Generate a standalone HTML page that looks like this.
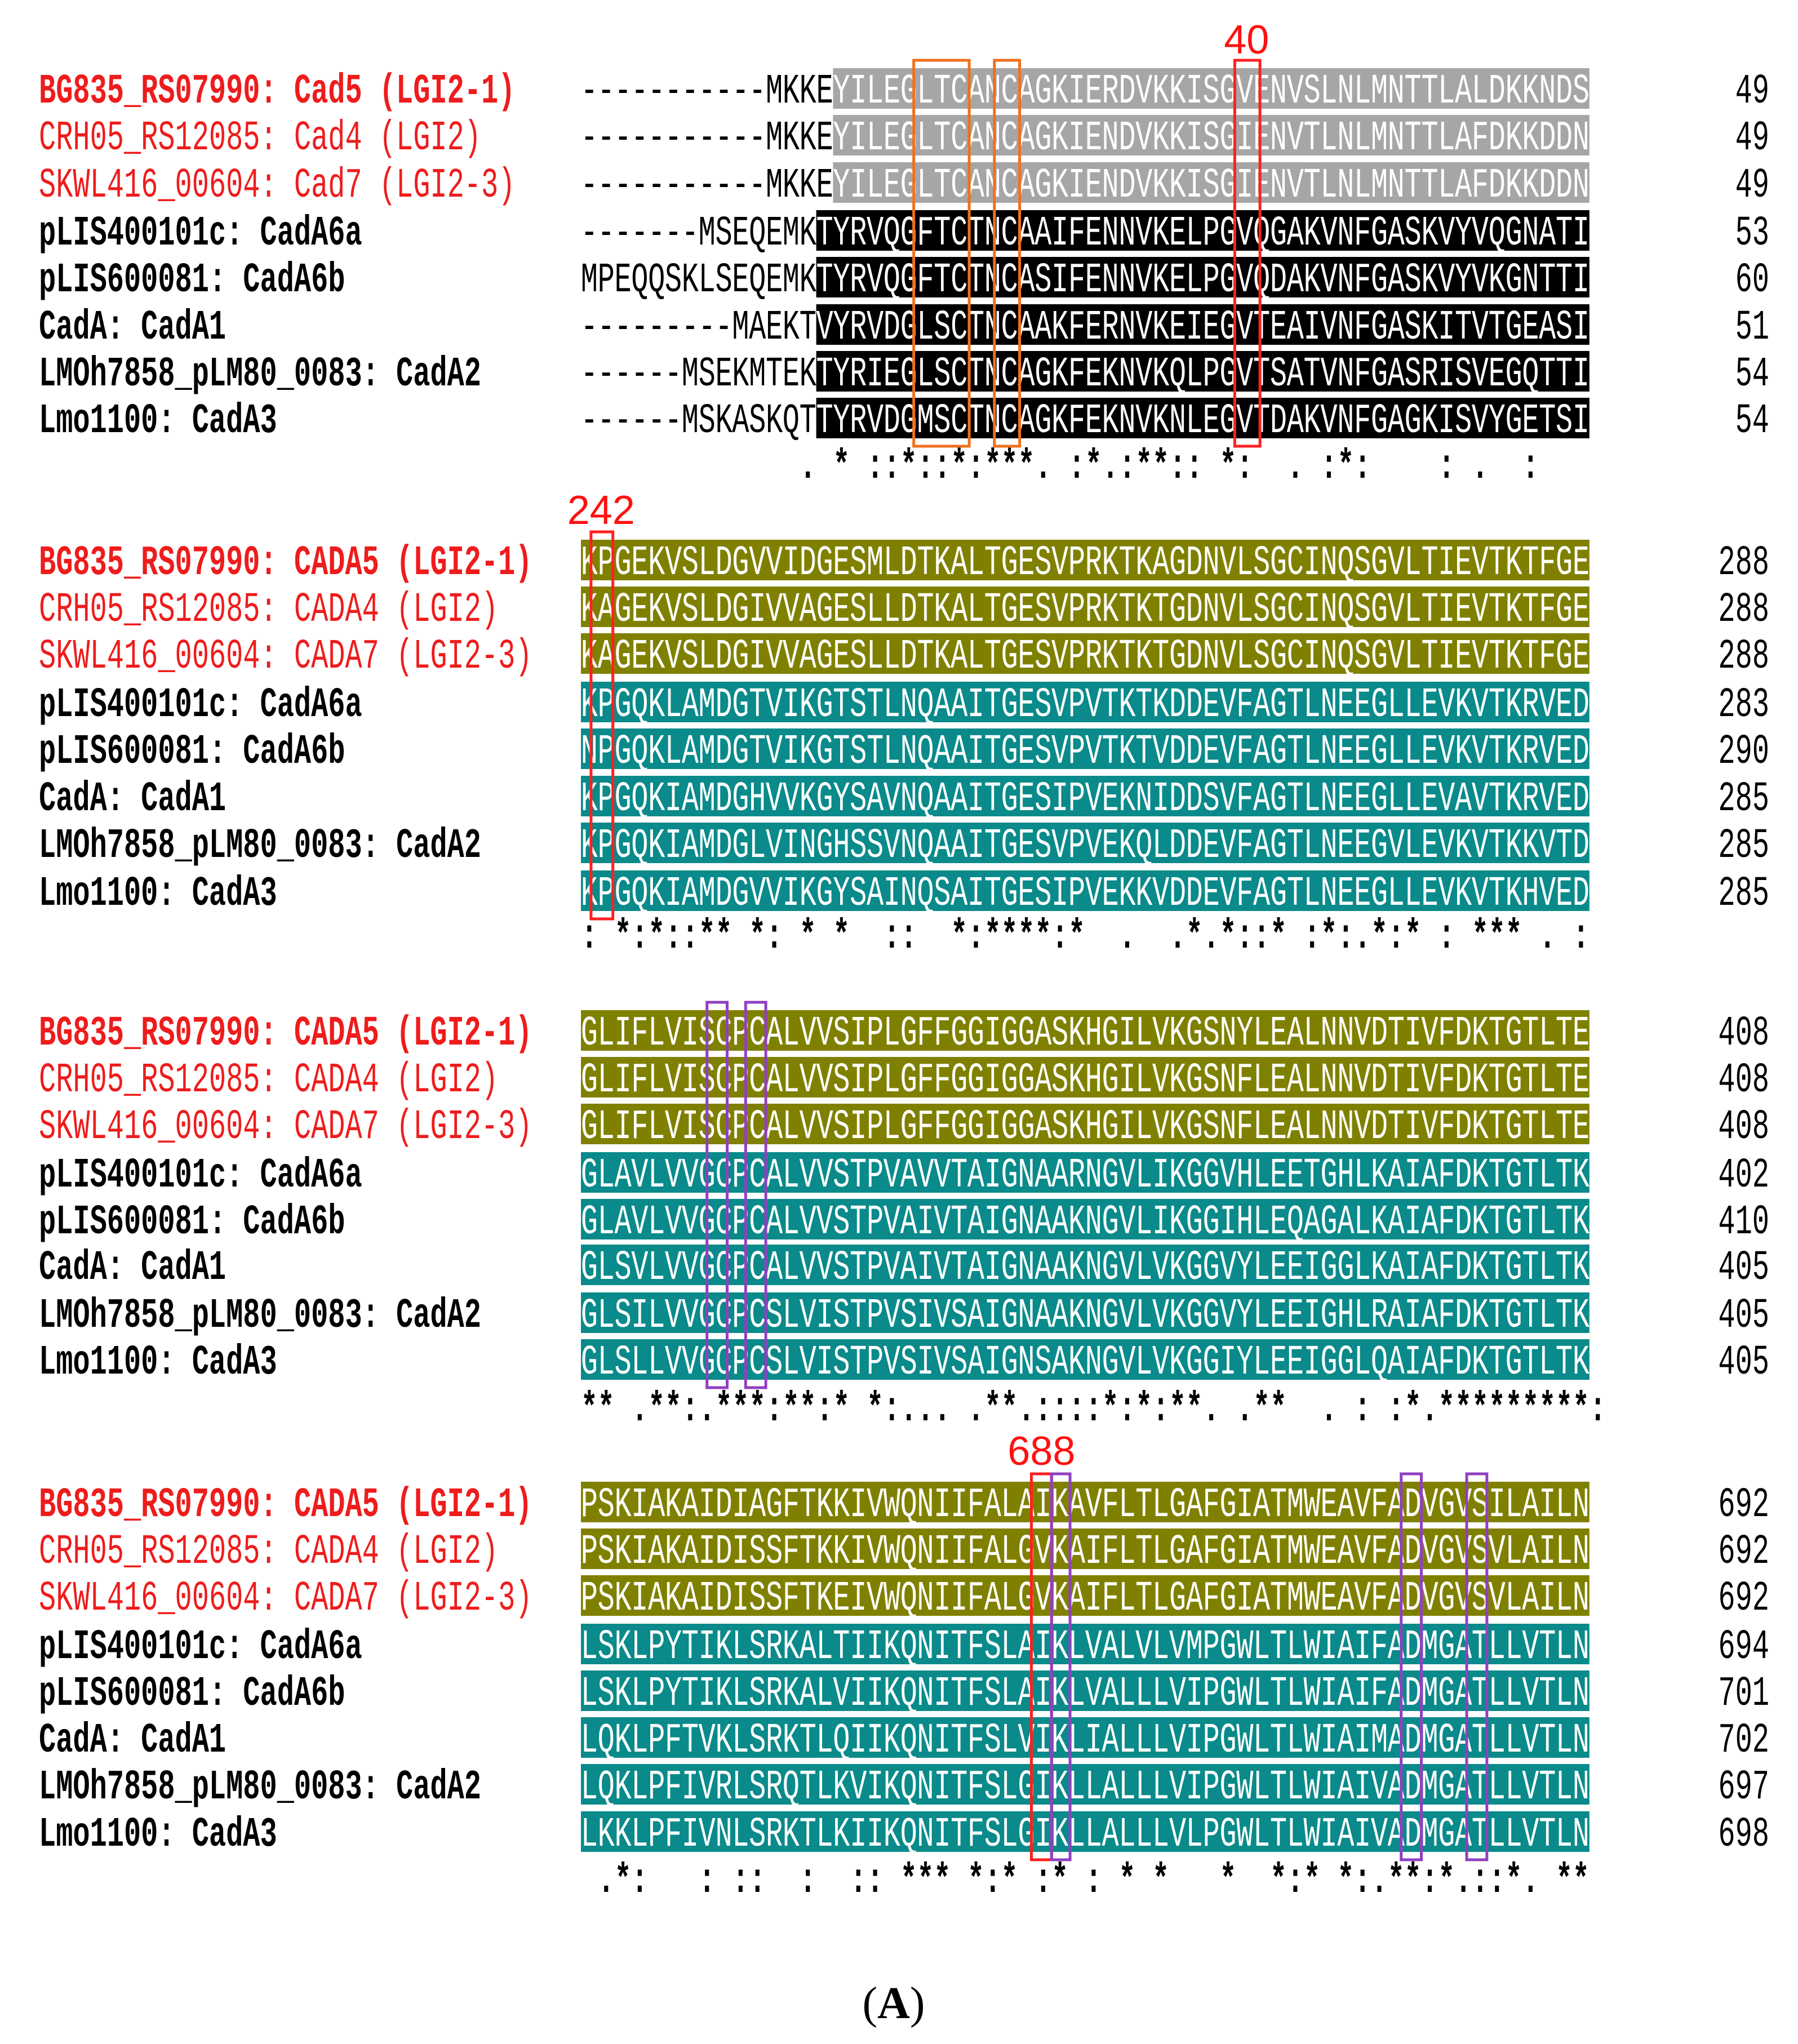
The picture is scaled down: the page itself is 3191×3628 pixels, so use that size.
<!DOCTYPE html>
<html><head><meta charset="utf-8"><style>
html,body{margin:0;padding:0;background:#fff;}
svg{display:block;}
</style></head><body>
<svg id="fig" width="3191" height="3628" viewBox="0 0 3191 3628" xmlns="http://www.w3.org/2000/svg"></svg>
<script>
const blockRowY = [[157,240,324,409,492,576,659,742],[994,1077,1160,1246,1329,1413,1496,1581],[1829,1912,1995,2081,2164,2245,2330,2413],[2666,2749,2832,2918,3001,3084,3167,3251]];
const consY = [826,1660,2499,3336];
const labels1 = ["BG835_RS07990: Cad5 (LGI2-1)","CRH05_RS12085: Cad4 (LGI2)","SKWL416_00604: Cad7 (LGI2-3)","pLIS400101c: CadA6a","pLIS600081: CadA6b","CadA: CadA1","LMOh7858_pLM80_0083: CadA2","Lmo1100: CadA3"];
const labels2 = ["BG835_RS07990: CADA5 (LGI2-1)","CRH05_RS12085: CADA4 (LGI2)","SKWL416_00604: CADA7 (LGI2-3)","pLIS400101c: CadA6a","pLIS600081: CadA6b","CadA: CadA1","LMOh7858_pLM80_0083: CadA2","Lmo1100: CadA3"];
const seqs = [
["-----------MKKEYILEGLTCANCAGKIERDVKKISGVENVSLNLMNTTLALDKKNDS","-----------MKKEYILEGLTCANCAGKIENDVKKISGIENVTLNLMNTTLAFDKKDDN","-----------MKKEYILEGLTCANCAGKIENDVKKISGIENVTLNLMNTTLAFDKKDDN","-------MSEQEMKTYRVQGFTCTNCAAIFENNVKELPGVQGAKVNFGASKVYVQGNATI","MPEQQSKLSEQEMKTYRVQGFTCTNCASIFENNVKELPGVQDAKVNFGASKVYVKGNTTI","---------MAEKTVYRVDGLSCTNCAAKFERNVKEIEGVTEAIVNFGASKITVTGEASI","------MSEKMTEKTYRIEGLSCTNCAGKFEKNVKQLPGVTSATVNFGASRISVEGQTTI","------MSKASKQTTYRVDGMSCTNCAGKFEKNVKNLEGVTDAKVNFGAGKISVYGETSI"],
["KPGEKVSLDGVVIDGESMLDTKALTGESVPRKTKAGDNVLSGCINQSGVLTIEVTKTFGE","KAGEKVSLDGIVVAGESLLDTKALTGESVPRKTKTGDNVLSGCINQSGVLTIEVTKTFGE","KAGEKVSLDGIVVAGESLLDTKALTGESVPRKTKTGDNVLSGCINQSGVLTIEVTKTFGE","KPGQKLAMDGTVIKGTSTLNQAAITGESVPVTKTKDDEVFAGTLNEEGLLEVKVTKRVED","NPGQKLAMDGTVIKGTSTLNQAAITGESVPVTKTVDDEVFAGTLNEEGLLEVKVTKRVED","KPGQKIAMDGHVVKGYSAVNQAAITGESIPVEKNIDDSVFAGTLNEEGLLEVAVTKRVED","KPGQKIAMDGLVINGHSSVNQAAITGESVPVEKQLDDEVFAGTLNEEGVLEVKVTKKVTD","KPGQKIAMDGVVIKGYSAINQSAITGESIPVEKKVDDEVFAGTLNEEGLLEVKVTKHVED"],
["GLIFLVISCPCALVVSIPLGFFGGIGGASKHGILVKGSNYLEALNNVDTIVFDKTGTLTE","GLIFLVISCPCALVVSIPLGFFGGIGGASKHGILVKGSNFLEALNNVDTIVFDKTGTLTE","GLIFLVISCPCALVVSIPLGFFGGIGGASKHGILVKGSNFLEALNNVDTIVFDKTGTLTE","GLAVLVVGCPCALVVSTPVAVVTAIGNAARNGVLIKGGVHLEETGHLKAIAFDKTGTLTK","GLAVLVVGCPCALVVSTPVAIVTAIGNAAKNGVLIKGGIHLEQAGALKAIAFDKTGTLTK","GLSVLVVGCPCALVVSTPVAIVTAIGNAAKNGVLVKGGVYLEEIGGLKAIAFDKTGTLTK","GLSILVVGCPCSLVISTPVSIVSAIGNAAKNGVLVKGGVYLEEIGHLRAIAFDKTGTLTK","GLSLLVVGCPCSLVISTPVSIVSAIGNSAKNGVLVKGGIYLEEIGGLQAIAFDKTGTLTK"],
["PSKIAKAIDIAGFTKKIVWQNIIFALAIKAVFLTLGAFGIATMWEAVFADVGVSILAILN","PSKIAKAIDISSFTKKIVWQNIIFALGVKAIFLTLGAFGIATMWEAVFADVGVSVLAILN","PSKIAKAIDISSFTKEIVWQNIIFALGVKAIFLTLGAFGIATMWEAVFADVGVSVLAILN","LSKLPYTIKLSRKALTIIKQNITFSLAIKLVALVLVMPGWLTLWIAIFADMGATLLVTLN","LSKLPYTIKLSRKALVIIKQNITFSLAIKLVALLLVIPGWLTLWIAIFADMGATLLVTLN","LQKLPFTVKLSRKTLQIIKQNITFSLVIKLIALLLVIPGWLTLWIAIMADMGATLLVTLN","LQKLPFIVRLSRQTLKVIKQNITFSLGIKLLALLLVIPGWLTLWIAIVADMGATLLVTLN","LKKLPFIVNLSRKTLKIIKQNITFSLGIKLLALLLVLPGWLTLWIAIVADMGATLLVTLN"]];
const ends = [["49","49","49","53","60","51","54","54"],["288","288","288","283","290","285","285","285"],["408","408","408","402","410","405","405","405"],["692","692","692","694","701","702","697","698"]];
const cons = ["             . * ::*::*:***. :*.:**:: *:  . :*:    : .  :",": *:*::** *: * *  ::  *:****:*  .  .*.*::* :*:.*:* : *** . :","** .**:.***:**:* *:... .**.::::*:*:**. .**  . : :*.*********:"," .*:   : ::  :  :: *** *:* :* : * *   *  *:* *:.**:*.::*. **"];
const shadeStart = [[15,15,15,14,14,14,14,14],[0,0,0,0,0,0,0,0],[0,0,0,0,0,0,0,0],[0,0,0,0,0,0,0,0]];
const shadeColor = [["#a6a6a6","#a6a6a6","#a6a6a6","#000","#000","#000","#000","#000"],["#808000","#808000","#808000","#0a8a8a","#0a8a8a","#0a8a8a","#0a8a8a","#0a8a8a"],["#808000","#808000","#808000","#0a8a8a","#0a8a8a","#0a8a8a","#0a8a8a","#0a8a8a"],["#808000","#808000","#808000","#0a8a8a","#0a8a8a","#0a8a8a","#0a8a8a","#0a8a8a"]];
const boxes = [[0,19.8,23.1,"#f07020"],[0,24.6,26.1,"#f07020"],[0,38.9,40.4,"#ff2020"],[1,0.6,1.9,"#ff2020"],[2,7.5,8.7,"#9040c0"],[2,9.8,11.0,"#9040c0"],[3,26.8,28.0,"#ff2020"],[3,28.0,29.1,"#9040c0"],[3,48.8,50.0,"#9040c0"],[3,52.7,53.9,"#9040c0"]];
const marks = [["40",39.6,65],["242",1.2,900],["688",27.4,2570]];

const NS="http://www.w3.org/2000/svg";
const svg=document.getElementById('fig');
const X0=1031, CW=29.83, SX=0.68, FS=74;
const colX=c=>X0+c*CW;
function mk(tag,attrs){const e=document.createElementNS(NS,tag);for(const k in attrs)e.setAttribute(k,attrs[k]);return e;}
function ch(t,x,y,fill,weight){
  const e=mk('text',{x:(x/SX).toFixed(1),y:y,'font-size':FS,'font-family':'Liberation Mono, monospace','text-anchor':'middle',fill:fill,'font-weight':weight||'normal',transform:'scale('+SX+',1)'});
  e.textContent=t;return e;
}
for(let b=0;b<4;b++){
  const g=mk('g',{});
  
  
  svg.appendChild(g);
  for(let r=0;r<8;r++){
    const y=blockRowY[b][r];
    const s=seqs[b][r];
    const rowG=mk('g',{});
    
    
    g.appendChild(rowG);
    const lbl=(b===0?labels1:labels2)[r];
    const red=r<3, bold=(r!==1&&r!==2);
    const lt=mk('text',{x:(69/SX).toFixed(1),y:y+25,'font-size':FS,'font-family':'Liberation Mono, monospace',fill:red?'#ee1c1c':'#000','font-weight':bold?'bold':'normal',transform:'scale('+SX+',1)'});
    lt.textContent=lbl;
    
    
    rowG.appendChild(lt);
    const st=shadeStart[b][r];
    const band=mk('rect',{x:colX(st),y:y-36,width:(60-st)*CW,height:72,fill:shadeColor[b][r]});
    
    
    rowG.appendChild(band);
    for(let i=0;i<s.length;i++){
      const inside=i>=st;
      rowG.appendChild(ch(s[i],colX(i+0.5),y+25,inside?'#fff':'#000'));
    }
    const nt=mk('text',{x:(3140/SX).toFixed(1),y:y+25,'font-size':FS,'font-family':'Liberation Mono, monospace','text-anchor':'end',fill:'#000',transform:'scale('+SX+',1)'});
    nt.textContent=ends[b][r];
    
    
    rowG.appendChild(nt);
  }
  const cg=mk('g',{});
  
  
  g.appendChild(cg);
  const c=cons[b];
  for(let i=0;i<c.length;i++){ if(c[i]!==' ') cg.appendChild(ch(c[i],colX(i+0.5),consY[b]+22,'#000','bold')); }
}
boxes.forEach(bx=>{
  const b=bx[0];
  const top=blockRowY[b][0]-50, bot=blockRowY[b][7]+50;
  const r=mk('rect',{x:colX(bx[1]),y:top,width:(bx[2]-bx[1])*CW,height:bot-top,fill:'none',stroke:bx[3],'stroke-width':5});
  
  
  svg.appendChild(r);
});
marks.forEach(m=>{
  const t=mk('text',{x:colX(m[1]),y:m[2]+30,'font-size':72,'font-family':'Liberation Sans, sans-serif','text-anchor':'middle',fill:'#ff1010'});
  t.textContent=m[0];
  
  
  svg.appendChild(t);
});
const cap=mk('text',{x:1586,y:3582,'font-size':80,'font-family':'Liberation Serif, serif','text-anchor':'middle',fill:'#000'});
cap.innerHTML='(<tspan font-weight="bold">A</tspan>)';


svg.appendChild(cap);
</script>
</body></html>
